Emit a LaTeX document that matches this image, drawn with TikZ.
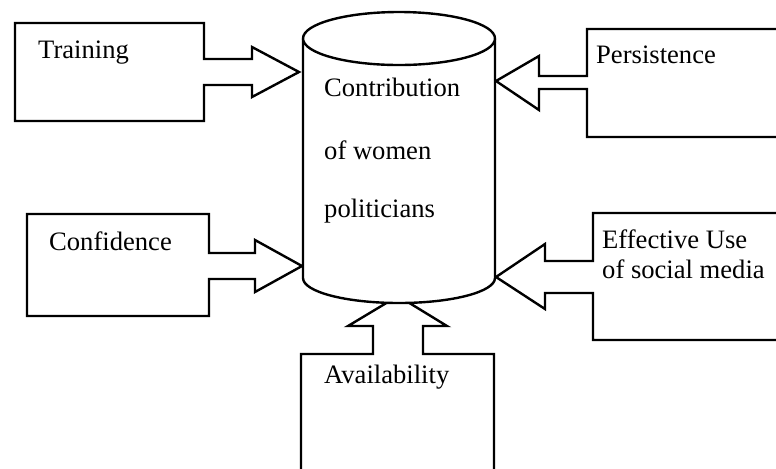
\documentclass[tikz,border=0pt]{standalone}
\usepackage{fontspec}
\setmainfont{Liberation Serif}
\begin{document}
\begin{tikzpicture}[
    x=0.5pt, y=0.5pt, yscale=-1,
    line width=1.2pt,
    callout/.style={draw, fill=white, line join=miter},
    label/.style={anchor=base west, inner sep=0pt, font=\fontsize{13.3}{15}\selectfont}
]
    \useasboundingbox (0,0) rectangle (776,468);
    \clip (0,0) rectangle (776,468);

    % --- LEFT CALLOUTS (pointing right) ---

    % Training
    \draw[callout] (15,23) -- (204,23) -- (204,59) -- (252,59) -- (252,47) -- (299,72)
        -- (252,97) -- (252,85) -- (204,85) -- (204,121) -- (15,121) -- cycle;

    % Confidence
    \draw[callout] (27,214) -- (209,214) -- (209,253) -- (255,253) -- (255,240) -- (302,266)
        -- (255,292) -- (255,279) -- (209,279) -- (209,316) -- (27,316) -- cycle;

    % --- RIGHT CALLOUTS (pointing left) ---

    % Persistence
    \draw[callout] (790,29) -- (587,29) -- (587,76) -- (539,76) -- (539,56) -- (496,81)
        -- (539,110) -- (539,89) -- (587,89) -- (587,137) -- (790,137);

    % Effective use of social media
    \draw[callout] (790,213) -- (593,213) -- (593,261) -- (545,261) -- (545,244) -- (496,277)
        -- (545,309) -- (545,293) -- (593,293) -- (593,340) -- (790,340);

    % --- BOTTOM CALLOUT (pointing up) ---

    % Availability
    \draw[callout] (301,480) -- (301,354) -- (373,354) -- (373,326) -- (348,326) -- (398,296)
        -- (447,326) -- (423,326) -- (423,354) -- (494,354) -- (494,480);

    % --- CYLINDER ---
    \draw[fill=white] (303,38.5) -- (303,278) arc[start angle=180, end angle=0, x radius=96, y radius=25]
        -- (495,38.5);
    \draw[fill=white] (399,38.5) ellipse [x radius=96, y radius=26.5];

    % Labels
    \node[label] (training) at (37,58) {Training};
    \node[label] (confidence) at (48,250) {Confidence};
    \node[label] (persistence) at (595,63) {Persistence};
    \node[label] (effective) at (601,248) {Effective Use};
    \node[label] (socialmedia) at (601,278) {of social media};
    \node[label] (availability) at (323,383) {Availability};
    \node[label] (contrib) at (323,96) {Contribution};
    \node[label] (women) at (323,159) {of women};
    \node[label] (politicians) at (323,217) {politicians};

\end{tikzpicture}
\end{document}
